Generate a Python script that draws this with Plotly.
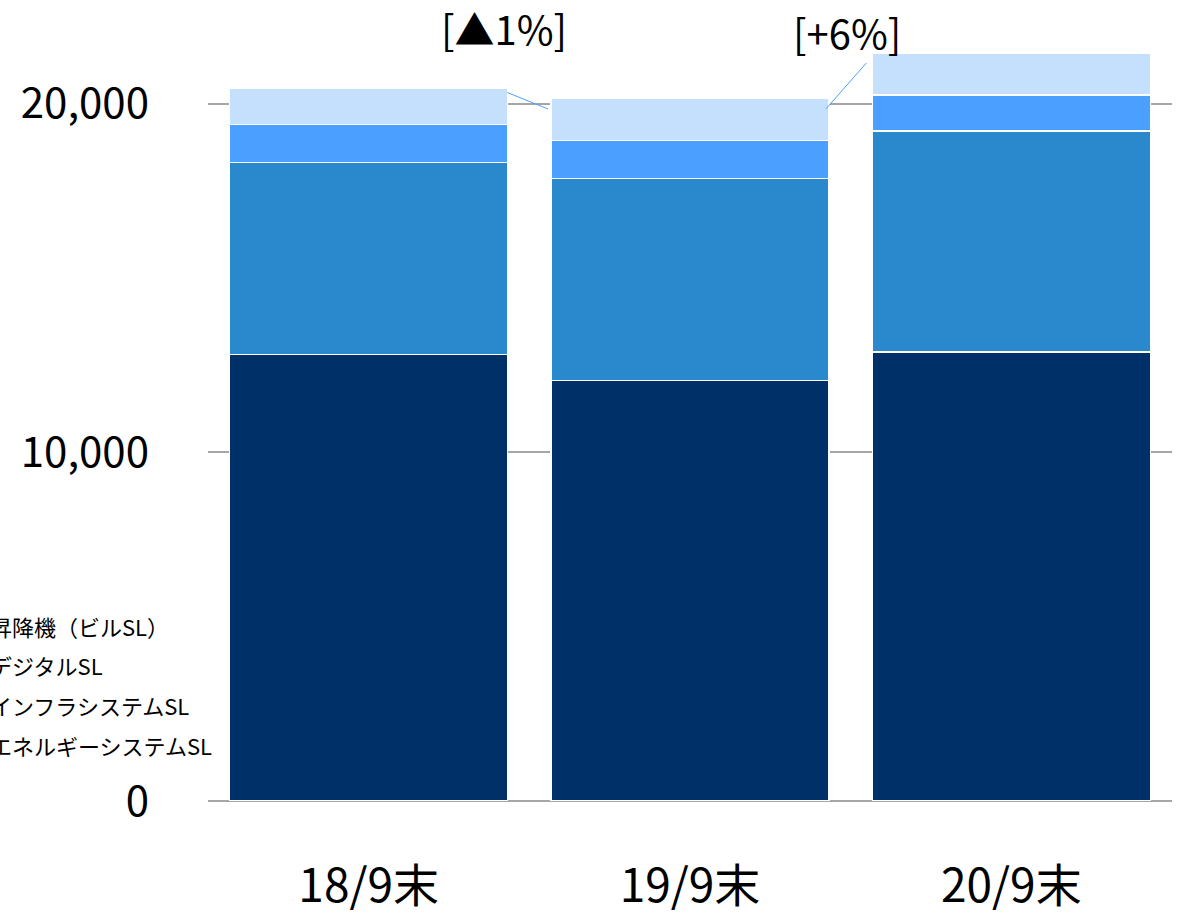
import plotly.graph_objects as go

categories = ["18/9末", "19/9末", "20/9末"]
series_names = ["エネルギーシステムSL", "インフラシステムSL", "デジタルSL", "昇降機（ビルSL）"]
energy = [12800, 12050, 12880]
infra = [5510, 5800, 6340]
digital = [1090, 1090, 1030]
elevator = [1030, 1200, 1180]
colors = ["#003068", "#2989CC", "#4BA0FF", "#C4E0FC"]
change_labels = ["[▲1%]", "[+6%]"]

FONT = "Noto Sans CJK JP"
W, H = 1183, 915
ml, mr, mt, mb = 208, 11, 34, 114
PH = H - mt - mb
PW = W - ml - mr

fig = go.Figure()
for name, vals, col in zip(series_names, [energy, infra, digital, elevator], colors):
    fig.add_trace(go.Bar(
        x=categories, y=vals, name=name, marker=dict(color=col, line=dict(color="white", width=1.2)),
        width=0.865, showlegend=False,
    ))

totals = [a + b + c + d for a, b, c, d in zip(energy, infra, digital, elevator)]

fig.update_layout(
    width=W, height=H, barmode="stack",
    margin=dict(l=ml, r=mr, t=mt, b=mb, autoexpand=False),
    paper_bgcolor="white", plot_bgcolor="white",
    font=dict(family=FONT, color="black"),
    xaxis=dict(range=[-0.5, 2.5], showgrid=False, showline=False, ticks="",
               tickfont=dict(size=46, family=FONT), ticklabelstandoff=54),
    yaxis=dict(range=[0, 22000], tickvals=[0, 10000, 20000], tickformat=",d",
               showgrid=True, gridcolor="#A6A6A6", gridwidth=1.5,
               zeroline=True, zerolinecolor="#A6A6A6", zerolinewidth=1.5,
               showline=False, ticks="", tickfont=dict(size=42, family=FONT),
               ticklabelstandoff=58),
    showlegend=False,
)

# change annotations
fig.add_annotation(x=0.42, y=1 - (28 - mt) / PH, xref="x", yref="paper", text=change_labels[0],
                   showarrow=False, font=dict(size=40, family=FONT), xanchor="center", yanchor="middle")
fig.add_annotation(x=1.49, y=1 - (32 - mt) / PH, xref="x", yref="paper", text=change_labels[1],
                   showarrow=False, font=dict(size=40, family=FONT), xanchor="center", yanchor="middle")
# leader lines
fig.add_shape(type="line", xref="x", yref="y", x0=0.432, y0=totals[0] - 110, x1=0.558, y1=totals[1] - 290,
              line=dict(color="#4BA0FF", width=1))
fig.add_shape(type="line", xref="x", yref="y", x0=1.423, y0=totals[1] - 290, x1=1.549, y1=totals[2] - 260,
              line=dict(color="#4BA0FF", width=1))

# legend labels (cropped at left edge as in reference)
ys_px = [626, 665, 705, 745]
for name, ypx in zip(series_names[::-1], ys_px):
    fig.add_annotation(x=(-12 - ml) / PW, y=1 - (ypx - mt) / PH,
                       xref="paper", yref="paper", text=name, showarrow=False,
                       xanchor="left", yanchor="middle", font=dict(size=22, family=FONT))

fig.write_html("out.html")
